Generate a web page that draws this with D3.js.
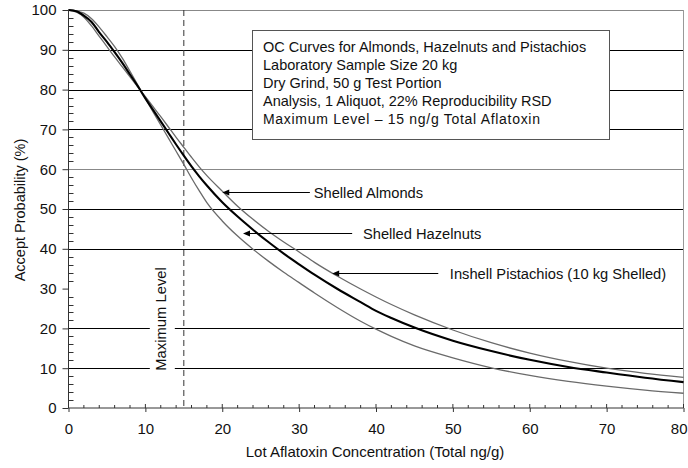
<!doctype html>
<html lang="en">
<head>
    <meta charset="utf-8">
    <title>OC Curves</title>
    <script src="https://d3js.org/d3.v7.min.js"></script>
    <style>
        body { margin: 0; background: #fff; }
        text { font-family: "Liberation Sans", Arial, sans-serif; fill: #111; }
    </style>
</head>
<body>
    <div id="chart"></div>

    <script>
        // lot concentration (ng/g) where the curves were read
        var conc = [0, 1, 2, 3, 4, 5, 6, 7, 8, 9, 10, 11, 12, 13, 14, 15, 16, 17, 18, 20, 22, 24, 26, 28, 30,
                    32, 35, 38, 40, 42, 45, 50, 55, 60, 65, 70, 75, 80]

        // accept probability (%)
        var almonds =    [100, 99.7, 98.6, 97.0, 94.4, 92.0, 89.4, 86.7, 83.8, 80.9, 77.8, 74.9, 72.0, 69.1, 66.2, 63.4,
                          60.7, 58.2, 55.9, 51.7, 48.1, 44.8, 41.7, 38.8, 36.1, 33.5, 29.9, 26.6, 24.4, 22.6, 20.2,
                          16.9, 14.3, 12.1, 10.3, 8.9, 7.6, 6.5]
        var hazelnuts =  [100, 99.8, 99.2, 97.8, 95.7, 93.3, 90.8, 87.9, 84.6, 81.2, 77.8, 74.4, 71.1, 67.8, 64.5, 61.2,
                          57.8, 54.6, 51.6, 47.0, 43.2, 39.9, 36.9, 34.1, 31.5, 28.9, 25.2, 21.8, 19.8, 18.0, 15.6,
                          12.6, 10.1, 8.2, 6.7, 5.5, 4.5, 3.7]
        var pistachios = [100, 99.5, 98.2, 96.0, 93.4, 90.8, 88.2, 85.7, 83.2, 80.7, 78.2, 75.7, 73.2, 70.6, 68.0, 65.5,
                          63.0, 60.6, 58.4, 54.5, 50.7, 47.4, 44.4, 41.7, 39.2, 36.6, 33.1, 29.9, 27.9, 26.0, 23.4,
                          19.6, 16.4, 13.8, 11.7, 10.0, 8.7, 7.7]

        var xTicks = [0, 10, 20, 30, 40, 50, 60, 70, 80]
        var yTicks = [0, 10, 20, 30, 40, 50, 60, 70, 80, 90, 100]
        var gridValues = [10, 20, 40, 50, 60, 70, 80, 90, 100]
        var maxLevel = 15

        var boxLines = ["OC Curves for Almonds, Hazelnuts and Pistachios",
                        "Laboratory Sample Size 20 kg",
                        "Dry Grind, 50 g Test Portion",
                        "Analysis, 1 Aliquot, 22% Reproducibility RSD",
                        "Maximum Level \u2013 15 ng/g Total Aflatoxin"]

        // label, label position and arrow (from -> tip), in data units
        var labelNames = ["Shelled Almonds", "Shelled Hazelnuts", "Inshell Pistachios (10 kg Shelled)"]
        var labelX = [31.9, 38.3, 49.6]
        var labelY = [54.3, 44.0, 33.9]
        var arrowFrom = [31.4, 36.9, 48.1]
        var arrowTip = [20.0, 22.7, 34.3]

        var width = 688
        var height = 468

        var svg = d3.select("#chart")
            .append("svg")
            .attr("width", width)
            .attr("height", height)

        svg.append("rect").attr("width", width).attr("height", height).attr("fill", "#fff")

        var x = d3.scaleLinear().domain([0, 80]).range([68.5, 683.5])
        var y = d3.scaleLinear().domain([0, 100]).range([408, 10])

        // horizontal grid lines
        svg.selectAll(".grid")
            .data(gridValues)
            .enter()
            .append("line")
            .attr("x1", x(0)).attr("x2", x(80))
            .attr("y1", d => Math.round(y(d)) + 0.5).attr("y2", d => Math.round(y(d)) + 0.5)
            .attr("stroke", d => (d == 100 || d == 60) ? "#888" : "#000")
            .attr("stroke-width", 1)

        // right border
        svg.append("line")
            .attr("x1", x(80)).attr("x2", x(80))
            .attr("y1", y(100)).attr("y2", y(0))
            .attr("stroke", "#999")

        // "Maximum Level" vertical label with white backing to cut the grid
        var mlx = x(maxLevel) - 23
        svg.append("rect")
            .attr("x", mlx - 11).attr("y", 260)
            .attr("width", 25).attr("height", 118)
            .attr("fill", "#fff")
        svg.append("text")
            .attr("transform", "translate(" + (mlx + 5.5) + ",319) rotate(-90)")
            .attr("text-anchor", "middle")
            .style("font-size", "14.8px")
            .text("Maximum Level")

        // dashed maximum level line
        svg.append("line")
            .attr("x1", x(maxLevel)).attr("x2", x(maxLevel))
            .attr("y1", y(100)).attr("y2", y(0))
            .attr("stroke", "#333")
            .attr("stroke-dasharray", "6,4")

        // info box
        var box = svg.append("g")
        box.append("rect")
            .attr("x", 252.5).attr("y", 30.5)
            .attr("width", 357).attr("height", 109)
            .attr("fill", "#fff")
            .attr("stroke", "#555")
        box.selectAll("text")
            .data(boxLines)
            .enter()
            .append("text")
            .attr("x", 263)
            .attr("y", (d, i) => 52 + i * 18)
            .style("font-size", (d, i) => i == 4 ? "14px" : "14.5px")
            .style("letter-spacing", (d, i) => i == 4 ? "0.7px" : "0px")
            .text(d => d)

        // curves
        var line = d3.line()
            .x(d => x(d[0]))
            .y(d => y(d[1]))
            .curve(d3.curveMonotoneX)

        var series = [
            { values: pistachios, color: "#6a6a6a", w: 1.3 },
            { values: hazelnuts, color: "#6a6a6a", w: 1.3 },
            { values: almonds, color: "#000", w: 2.1 }
        ]

        svg.selectAll(".curve")
            .data(series)
            .enter()
            .append("path")
            .attr("d", s => line(conc.map((c, i) => [c, s.values[i]])))
            .attr("fill", "none")
            .attr("stroke", s => s.color)
            .attr("stroke-width", s => s.w)

        // annotation arrows and labels
        labelNames.forEach(function (name, i) {
            var yy = Math.round(y(labelY[i])) + 0.5
            var tx = x(arrowTip[i])
            svg.append("line")
                .attr("x1", x(arrowFrom[i])).attr("x2", tx + 5)
                .attr("y1", yy).attr("y2", yy)
                .attr("stroke", "#000")
            svg.append("path")
                .attr("d", "M" + tx + "," + yy + "l7,-3l0,6z")
                .attr("fill", "#000")
            svg.append("text")
                .attr("x", x(labelX[i]))
                .attr("y", yy + 5)
                .style("font-size", "14.7px")
                .text(name)
        })

        // axes
        var xAxis = svg.append("g")
            .attr("transform", "translate(0," + y(0) + ")")
            .call(d3.axisBottom(x).tickValues(xTicks).tickSize(4).tickPadding(11))
        var yAxis = svg.append("g")
            .attr("transform", "translate(" + x(0) + ",0)")
            .call(d3.axisLeft(y).tickValues(yTicks).tickSize(6).tickPadding(6))

        ;[xAxis, yAxis].forEach(function (g) {
            g.select(".domain").attr("stroke", "#333")
            g.selectAll(".tick line").attr("stroke", "#333")
            g.selectAll(".tick text")
                .style("font-size", "15px")
                .style("font-family", "'Liberation Sans', Arial, sans-serif")
                .attr("fill", "#111")
        })
        xAxis.select(".domain").attr("d", "M" + x(0) + ",0H" + x(80))
        yAxis.select(".domain").attr("d", "M0," + y(0) + "V" + y(100))
        // last x label sits against the right edge
        xAxis.selectAll(".tick text").filter(d => d == 80)
            .attr("text-anchor", "end")
            .attr("dx", (687 - x(80)) + "px")

        // major x ticks also go above the axis
        svg.selectAll(".xmaj")
            .data(xTicks)
            .enter()
            .append("line")
            .attr("x1", d => x(d)).attr("x2", d => x(d))
            .attr("y1", y(0) - 4).attr("y2", y(0))
            .attr("stroke", "#333")

        // minor ticks
        svg.selectAll(".xmin")
            .data(d3.range(2, 80, 2).filter(d => d % 10 != 0))
            .enter()
            .append("line")
            .attr("x1", d => x(d)).attr("x2", d => x(d))
            .attr("y1", y(0) - 3).attr("y2", y(0))
            .attr("stroke", "#333")
        svg.selectAll(".ymin")
            .data(d3.range(2, 100, 2).filter(d => d % 10 != 0))
            .enter()
            .append("line")
            .attr("x1", x(0)).attr("x2", x(0) + 5)
            .attr("y1", d => Math.round(y(d)) + 0.5).attr("y2", d => Math.round(y(d)) + 0.5)
            .attr("stroke", "#333")

        // axis titles
        svg.append("text")
            .attr("x", 375).attr("y", 457)
            .attr("text-anchor", "middle")
            .style("font-size", "15px")
            .text("Lot Aflatoxin Concentration (Total ng/g)")
        svg.append("text")
            .attr("transform", "translate(25,210) rotate(-90)")
            .attr("text-anchor", "middle")
            .style("font-size", "14.5px")
            .text("Accept Probability (%)")
    </script>
</body>
</html>
